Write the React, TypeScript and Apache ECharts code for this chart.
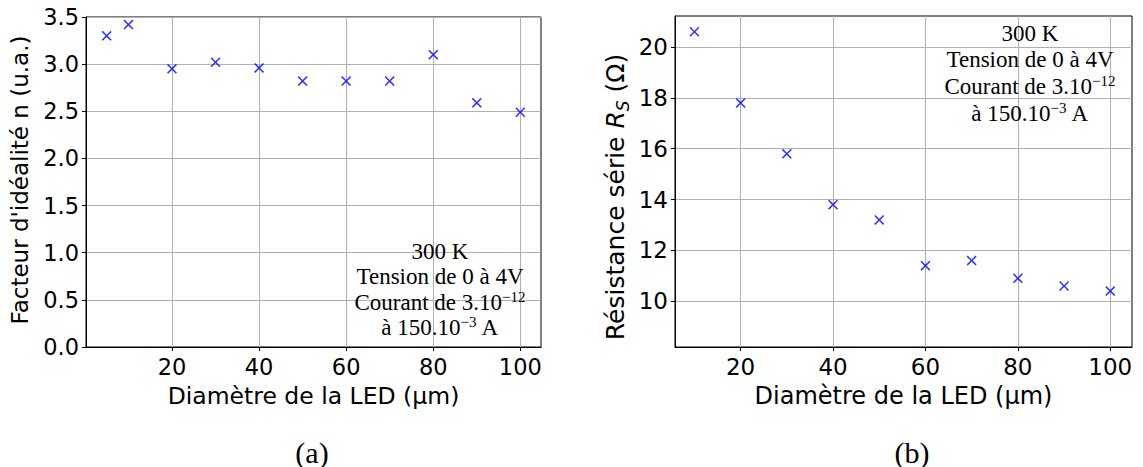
import React, { useEffect, useRef } from 'react';
import * as echarts from 'echarts';

// ---- data ----
const diamA = [5, 10, 20, 30, 40, 50, 60, 70, 80, 90, 100];
const idealityN = [3.3, 3.42, 2.95, 3.02, 2.96, 2.82, 2.82, 2.82, 3.1, 2.59, 2.49];
const diamB = [10, 20, 30, 40, 50, 60, 70, 80, 90, 100];
const seriesR = [20.6, 17.8, 15.8, 13.8, 13.2, 11.4, 11.6, 10.9, 10.6, 10.4];
const xTicks = [20, 40, 60, 80, 100];
const yTicksA = [0, 0.5, 1, 1.5, 2, 2.5, 3, 3.5];
const yTicksB = [10, 12, 14, 16, 18, 20];
const annotationLines = ['300 K', 'Tension de 0 à 4V', 'Courant de 3.10{sup|−12}', 'à 150.10{sup|−3} A'];
const xName = 'Diamètre de la LED (µm)';
const yNameA = "Facteur d'idéalité n (u.a.)";
const yNameB = 'Résistance série {it|R}{sub|S} (Ω)';
const captions = ['(a)', '(b)'];

const SANS = 'DejaVu Sans';
const SERIF = 'Liberation Serif';
const X_SYMBOL =
  'path://M0,1.1L1.1,0L5,3.9L8.9,0L10,1.1L6.1,5L10,8.9L8.9,10L5,6.1L1.1,10L0,8.9L3.9,5Z';

function xAxisCfg(min: number, max: number, gridIndex: number, fs: number, nameFs: number) {
  return {
    type: 'value',
    gridIndex,
    min,
    max,
    name: xName,
    nameLocation: 'middle',
    nameGap: 37,
    nameTextStyle: { fontFamily: SANS, fontSize: nameFs, color: '#000' },
    axisLine: { show: true, onZero: false, lineStyle: { color: '#000', width: 1 } },
    axisTick: { show: true, inside: false, length: 4, customValues: xTicks, lineStyle: { color: '#000' } },
    axisLabel: {
      customValues: xTicks,
      margin: 8,
      fontFamily: SANS,
      fontSize: fs,
      color: '#000',
    },
    splitLine: { show: true, lineStyle: { color: '#b0b0b0', width: 1 } },
  };
}

function yAxisCfg(min: number, max: number, ticks: number[], gridIndex: number, digits: number, fs: number) {
  return {
    type: 'value',
    gridIndex,
    min,
    max,
    axisLine: { show: true, onZero: false, lineStyle: { color: '#000', width: 1 } },
    axisTick: { show: true, inside: false, length: 4, customValues: ticks, lineStyle: { color: '#000' } },
    axisLabel: {
      customValues: ticks,
      margin: 7,
      fontFamily: SANS,
      fontSize: fs,
      color: '#000',
      formatter: (v: number) => v.toFixed(digits),
    },
    splitLine: { show: true, lineStyle: { color: '#b0b0b0', width: 1 } },
  };
}

function annotation(cx: number, cy: number, step: number) {
  return annotationLines.map((t, i) => ({
    type: 'text',
    x: cx,
    y: cy + step * i,
    z: 10,
    style: {
      text: t,
      fontFamily: SERIF,
      fontSize: 23,
      fill: '#000',
      align: 'center',
      verticalAlign: 'middle',
      lineHeight: 26,
      rich: {
        sup: { fontFamily: SERIF, fontSize: 15, fill: '#000', verticalAlign: 'top', lineHeight: 14 },
      },
    },
  }));
}

export default function App() {
  const ref = useRef<HTMLDivElement>(null);
  useEffect(() => {
    if (!ref.current) return;
    const chart = echarts.init(ref.current, undefined, { renderer: 'svg' });
    chart.setOption({
      animation: false,
      backgroundColor: '#fff',
      grid: [
        { left: 86, top: 17, width: 455, height: 330, show: true, borderColor: '#000', borderWidth: 1, backgroundColor: 'transparent' },
        { left: 675, top: 16, width: 457, height: 331, show: true, borderColor: '#000', borderWidth: 1, backgroundColor: 'transparent' },
      ],
      xAxis: [xAxisCfg(0.25, 104.75, 0, 22.5, 23.5), xAxisCfg(5.8, 104.7, 1, 23, 24)],
      yAxis: [yAxisCfg(0, 3.5, yTicksA, 0, 1, 22.5), yAxisCfg(8.2, 21.22, yTicksB, 1, 0, 23)],
      series: [
        {
          type: 'scatter',
          xAxisIndex: 0,
          yAxisIndex: 0,
          symbol: X_SYMBOL,
          symbolSize: 10,
          itemStyle: { color: '#0000ff' },
          data: diamA.map((d, i) => [d, idealityN[i]]),
          z: 5,
        },
        {
          type: 'scatter',
          xAxisIndex: 1,
          yAxisIndex: 1,
          symbol: X_SYMBOL,
          symbolSize: 10,
          itemStyle: { color: '#0000ff' },
          data: diamB.map((d, i) => [d, seriesR[i]]),
          z: 5,
        },
      ],
      graphic: [
        ...annotation(440, 251, 25.5),
        ...annotation(1030, 33, 26.7),
        {
          type: 'text',
          x: 20,
          y: 180,
          rotation: Math.PI / 2,
          style: {
            text: yNameA,
            fontFamily: SANS,
            fontSize: 23,
            fill: '#000',
            align: 'center',
            verticalAlign: 'middle',
          },
        },
        {
          type: 'text',
          x: 615,
          y: 197,
          rotation: Math.PI / 2,
          style: {
            text: yNameB,
            fontFamily: SANS,
            fontSize: 25,
            fill: '#000',
            align: 'center',
            verticalAlign: 'middle',
            lineHeight: 32,
            rich: {
              it: { fontFamily: SANS, fontSize: 25, fontStyle: 'italic', fill: '#000', lineHeight: 32 },
              sub: { fontFamily: SANS, fontSize: 17, fontStyle: 'italic', fill: '#000', verticalAlign: 'bottom', lineHeight: 20 },
            },
          },
        },
        {
          type: 'text',
          x: 312,
          y: 452,
          style: { text: captions[0], fontFamily: SERIF, fontSize: 30, fill: '#000', align: 'center', verticalAlign: 'middle' },
        },
        {
          type: 'text',
          x: 912,
          y: 452,
          style: { text: captions[1], fontFamily: SERIF, fontSize: 30, fill: '#000', align: 'center', verticalAlign: 'middle' },
        },
      ],
    });
    return () => chart.dispose();
  }, []);
  return (
    <div
      ref={ref}
      style={{ position: 'fixed', left: 0, top: 0, width: 1143, height: 467, background: '#fff' }}
    />
  );
}
